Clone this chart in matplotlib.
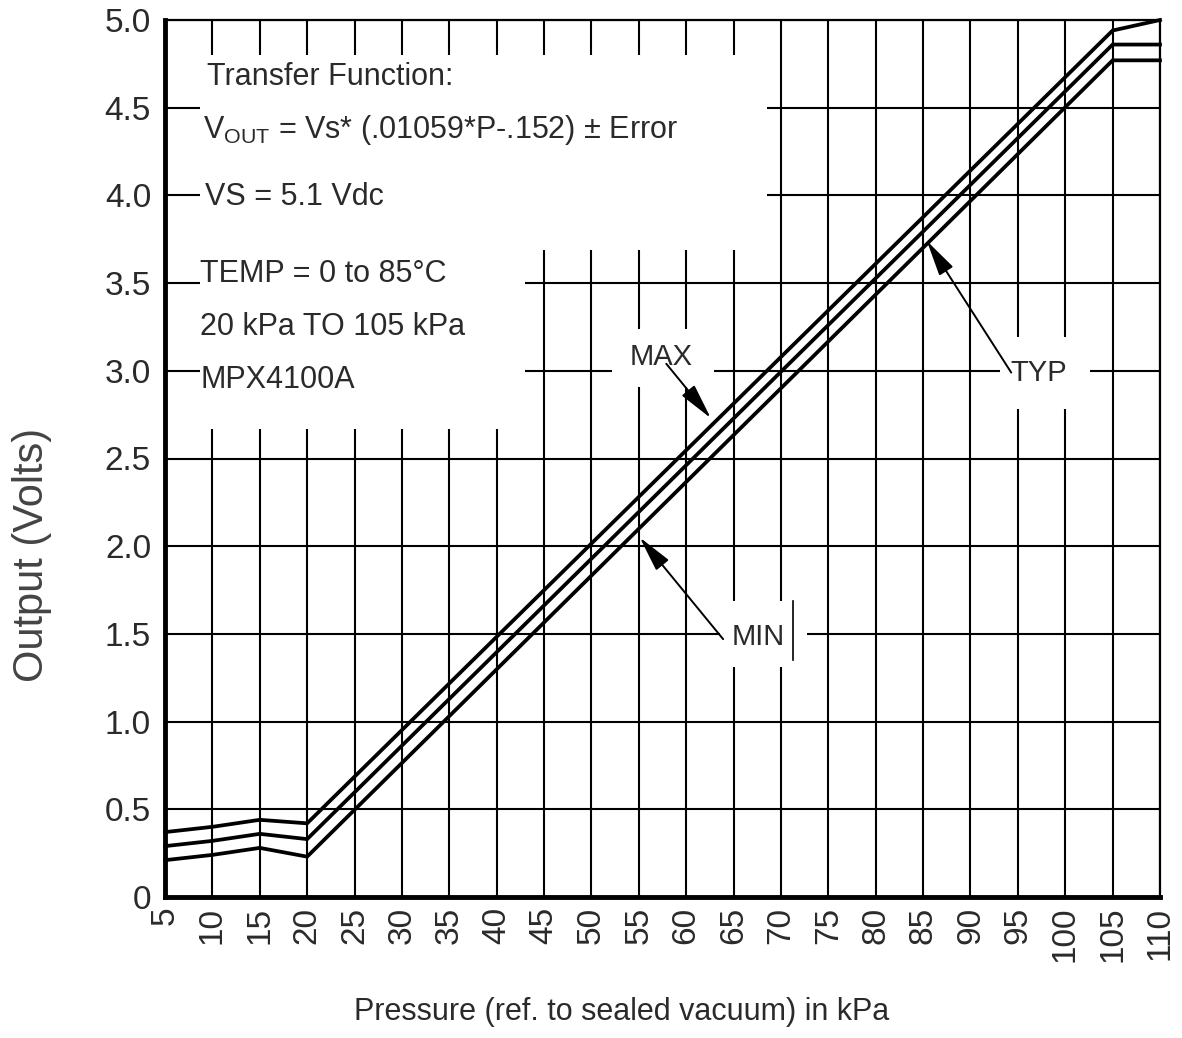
import matplotlib
matplotlib.use("Agg")
import matplotlib.pyplot as plt
from matplotlib.patches import Rectangle

plt.rcParams['font.family'] = ['Liberation Sans', 'DejaVu Sans']
plt.rcParams['mathtext.fontset'] = 'custom'
plt.rcParams['mathtext.rm'] = 'Liberation Sans'

# ---- data ----
pressure = [5, 10, 15, 20, 105, 110]
v_max = [0.37, 0.40, 0.44, 0.42, 4.94, 5.00]
v_typ = [0.29, 0.32, 0.36, 0.33, 4.86, 4.86]
v_min = [0.21, 0.24, 0.28, 0.23, 4.77, 4.77]

x_ticks = list(range(5, 111, 5))
x_tick_labels = [str(v) for v in x_ticks]
y_ticks = [0, 0.5, 1.0, 1.5, 2.0, 2.5, 3.0, 3.5, 4.0, 4.5, 5.0]
y_tick_labels = ["0", "0.5", "1.0", "1.5", "2.0", "2.5", "3.0", "3.5", "4.0", "4.5", "5.0"]

info_lines = ["Transfer Function:",
              r"V$_{\mathregular{OUT}}$ = Vs* (.01059*P-.152) ± Error",
              "VS = 5.1 Vdc",
              "TEMP = 0 to 85°C",
              "20 kPa TO 105 kPa",
              "MPX4100A"]

TXT = '#2a2a2a'
W, H = 1182, 1038
fig = plt.figure(figsize=(W / 100, H / 100), dpi=100)
fig.patch.set_facecolor('white')
ax = fig.add_axes([165 / W, (H - 897) / H, 995 / W, 877 / H])

ax.set_xlim(5, 110)
ax.set_ylim(0, 5.0)
ax.set_xticks(x_ticks)
ax.set_xticklabels(x_tick_labels, rotation=90, fontsize=24, color=TXT, va='top')
ax.set_yticks(y_ticks)
ax.set_yticklabels(y_tick_labels, fontsize=24, color=TXT)
ax.tick_params(axis='both', length=0)
ax.tick_params(axis='x', pad=7)
ax.tick_params(axis='y', pad=10)

ax.grid(True, color='black', lw=1.5)
ax.set_axisbelow(True)

for side, lw in (('left', 3.5), ('bottom', 3.5), ('top', 1.6), ('right', 1.6)):
    ax.spines[side].set_linewidth(lw)
    ax.spines[side].set_color('black')

# white areas that interrupt the grid (text block and label gaps)
white_boxes = [(8.7, 3.69, 68.5 - 8.7, 4.80 - 3.69),
               (8.7, 2.67, 43.0 - 8.7, 3.69 - 2.67),
               (52.2, 2.91, 62.9 - 52.2, 3.24 - 2.91),
               (93.1, 2.78, 102.6 - 93.1, 3.19 - 2.78),
               (63.6, 1.31, 72.75 - 63.6, 1.69 - 1.31)]
for (x0, y0, w, h) in white_boxes:
    ax.add_patch(Rectangle((x0, y0), w, h, facecolor='white', edgecolor='none', zorder=1))

# curves
for vals in (v_max, v_typ, v_min):
    ax.plot(pressure, vals, color='black', lw=2.7, solid_joinstyle='miter', zorder=3, clip_on=False)

# info text block
info_pos = [(9.4, 4.675, 'center'), (9.0, 4.33, 'baseline'), (9.2, 3.99, 'center'),
            (8.7, 3.55, 'center'), (8.7, 3.25, 'center'), (8.7, 2.95, 'center')]
for txt, (x, y, va) in zip(info_lines, info_pos):
    ax.text(x, y, txt, fontsize=22, color=TXT, ha='left', va=va, zorder=4)

# curve labels with arrows
arrow = dict(arrowstyle='-|>,head_length=1.1,head_width=0.25', lw=1.4, color='black',
             shrinkA=0, shrinkB=0, mutation_scale=20)
ax.text(57.4, 3.08, 'MAX', fontsize=21, color=TXT, ha='center', va='center', zorder=4)
ax.annotate('', xy=(62.6, 2.73), xytext=(57.9, 3.04), arrowprops=arrow, zorder=4)
ax.text(97.2, 2.99, 'TYP', fontsize=21, color=TXT, ha='center', va='center', zorder=4)
ax.annotate('', xy=(85.4, 3.74), xytext=(94.3, 2.99), arrowprops=arrow, zorder=4)
ax.text(67.6, 1.48, 'MIN', fontsize=21, color=TXT, ha='center', va='center', zorder=4)
ax.annotate('', xy=(55.1, 2.05), xytext=(63.9, 1.47), arrowprops=arrow, zorder=4)
ax.plot([71.3, 71.3], [1.35, 1.69], color='black', lw=1.2, zorder=4)

xl = ax.set_xlabel('Pressure (ref. to sealed vacuum) in kPa', fontsize=22, color=TXT)
ax.xaxis.set_label_coords((622 - 165) / 995, (897 - 1012) / 877)
xl.set_va('center')
yl = ax.set_ylabel('Output (Volts)', fontsize=30, color='#444444')
ax.yaxis.set_label_coords((32 - 165) / 995, (897 - 555) / 877)
yl.set_va('center')

fig.savefig('out.png', dpi=100, facecolor='white')
